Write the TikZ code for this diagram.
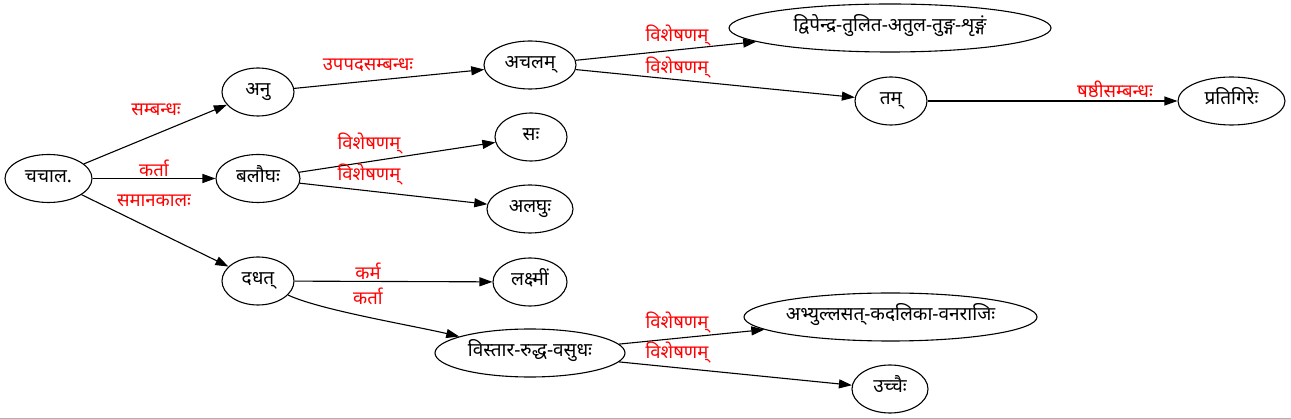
\documentclass[tikz,border=0pt]{standalone}
\usepackage{fontspec}
\setmainfont[Script=Devanagari]{Noto Sans}
\usetikzlibrary{arrows.meta,shapes.geometric}
\newcommand\ntxt[1]{\makebox[0pt]{#1}}
\begin{document}
\begin{tikzpicture}[x=1pt,y=-1pt,
  nd/.style={draw, ellipse, line width=1.1pt, inner sep=0pt, minimum height=48pt,
     text height=13pt, text depth=5pt, font=\fontsize{19}{21}\selectfont},
  lbl/.style={text=red, inner sep=0pt, font=\fontsize{18.5}{21}\selectfont},
  edge/.style={line width=1.1pt, -{Triangle[length=13pt,width=9pt]}}]
\useasboundingbox (0,0) rectangle (1291,419);
\draw[gray!60, line width=1pt] (0,418.5) -- (1291,418.5);
% nodes
\node[nd, minimum width=87pt]  (chachala) at (48.5,178.5) {\ntxt{चचाल.}};
\node[nd, minimum width=72pt]  (anu)      at (258,92)    {\ntxt{अनु}};
\node[nd, minimum width=84pt]  (balaugha) at (258,178.5) {\ntxt{बलौघः}};
\node[nd, minimum width=72pt]  (dadhat)   at (258,281)   {\ntxt{दधत्}};
\node[nd, minimum width=92pt]  (achalam)  at (530,65)    {\ntxt{अचलम्}};
\node[nd, minimum width=72pt]  (sah)      at (531,137)   {\ntxt{सः}};
\node[nd, minimum width=86pt]  (alaghu)   at (530,209)   {\ntxt{अलघुः}};
\node[nd, minimum width=74pt]  (lakshmim) at (530,282)   {\ntxt{लक्ष्मीं}};
\node[nd, minimum width=190pt] (vistara)  at (530,353)   {\ntxt{विस्तार-रुद्ध-वसुधः}};
\node[nd, minimum width=322pt] (dvip)     at (890,28)    {\ntxt{द्विपेन्द्र-तुलित-अतुल-तुङ्ग-शृङ्गं}};
\node[nd, minimum width=72pt]  (tam)      at (891,101)   {\ntxt{तम्}};
\node[nd, minimum width=107pt] (prati)    at (1231.5,101) {\ntxt{प्रतिगिरेः}};
\node[nd, minimum width=293pt] (abhy)     at (890.5,317) {\ntxt{अभ्युल्लसत्-कदलिका-वनराजिः}};
\node[nd, minimum width=76pt]  (uccaih)   at (890,389)   {\ntxt{उच्चैः}};
% edges
\draw[edge] (chachala) -- (anu);
\draw[edge] (chachala) -- (balaugha);
\draw[edge] (chachala) -- (dadhat);
\draw[edge] (anu) -- (achalam);
\draw[edge] (achalam) -- (dvip);
\draw[edge] (achalam) -- (tam);
\draw[edge] (tam) -- (prati);
\draw[edge] (balaugha) -- (sah);
\draw[edge] (balaugha) -- (alaghu);
\draw[edge] (dadhat) -- (lakshmim);
\draw[edge] (dadhat) .. controls (320,310) and (410,325) .. (vistara);
\draw[edge] (vistara) -- (abhy);
\draw[edge] (vistara) -- (uccaih);
% labels
\node[lbl] (l1)  at (156,110) {सम्बन्धः};
\node[lbl] (l2)  at (154,168) {कर्ता};
\node[lbl] (l3)  at (154,201) {समानकालः};
\node[lbl] (l4)  at (368,65)  {उपपदसम्बन्धः};
\node[lbl] (l5)  at (677,36)  {विशेषणम्};
\node[lbl] (l6)  at (677,68)  {विशेषणम्};
\node[lbl] (l7)  at (1115,89) {षष्ठीसम्बन्धः};
\node[lbl] (l8)  at (369,144) {विशेषणम्};
\node[lbl] (l9)  at (369,175) {विशेषणम्};
\node[lbl] (l10) at (368,271) {कर्म};
\node[lbl] (l11) at (368,296) {कर्ता};
\node[lbl] (l12) at (677,323) {विशेषणम्};
\node[lbl] (l13) at (677,353) {विशेषणम्};
\end{tikzpicture}
\end{document}
